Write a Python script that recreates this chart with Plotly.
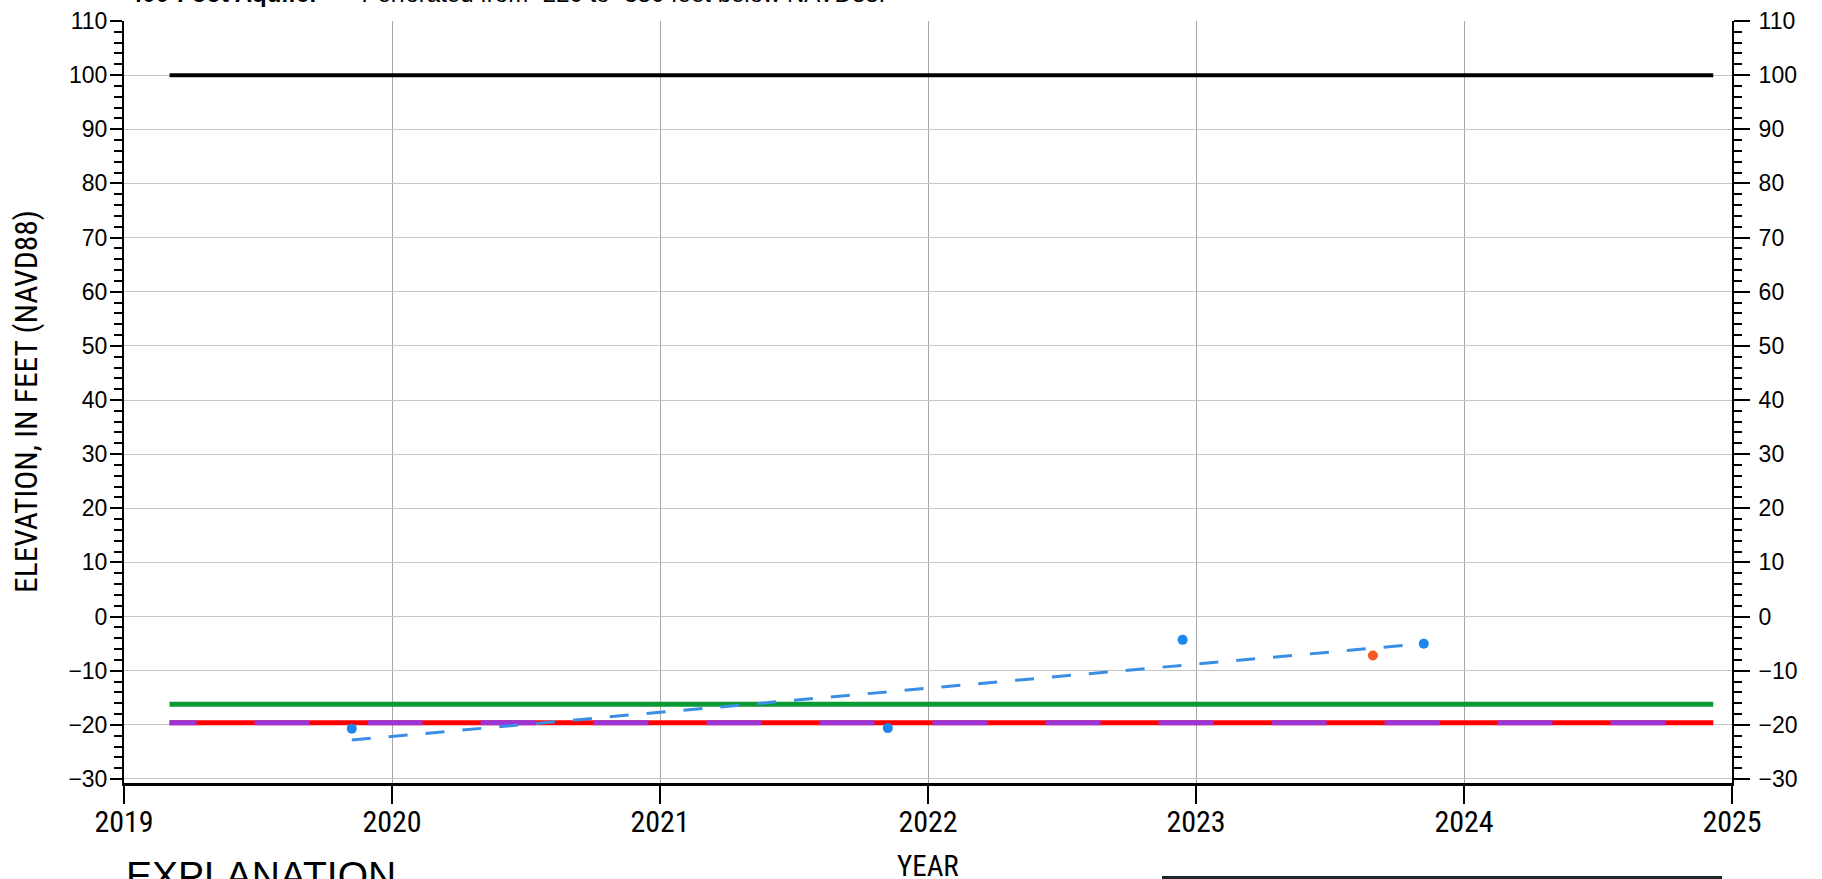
import plotly.graph_objects as go

# ---------------- data ----------------
obs_years = [2019.85, 2021.85, 2022.95, 2023.85]
obs_elev = [-20.7, -20.6, -4.3, -5.0]

other_years = [2023.66]
other_elev = [-7.2]

trend_years = [2019.85, 2023.85]
trend_elev = [-22.8, -5.0]

ref_span = [2019.17, 2024.93]
ground_elev = 100.0
green_elev = -16.2
red_elev = -19.6
purple_elev = -19.6

x_ticks = [2019, 2020, 2021, 2022, 2023, 2024, 2025]
y_range = [-30.74, 110]

title_bold = "400-Foot Aquifer"
title_rest = "  --  Perforated from -220 to -380 feet below NAVD88."

# ---------------- styling ----------------
NARROW = "Liberation Sans Narrow, Arial Narrow, Noto Sans Condensed, Noto Sans ExtraCondensed, Roboto Condensed, Liberation Sans, Arial, sans-serif"
REG = "Arial"

L, R, T, B = 124, 90, 21, 96
W, H = 1822, 879
PW, PH = W - L - R, H - T - B


def px_x(p):
    return (p - L) / PW


def px_y(p):
    return (H - B - p) / PH


# purple/red alternating dash pattern
first, dash_on, dash_off, reps = 27, 55, 58, 16
pattern = [first, dash_off] + [dash_on, dash_off] * reps
purple_dash = ",".join(f"{v}px" for v in pattern)

fig = go.Figure()

fig.add_trace(go.Scatter(x=ref_span, y=[ground_elev] * 2, mode="lines",
                         line=dict(color="black", width=4), showlegend=False,
                         hoverinfo="skip"))
fig.add_trace(go.Scatter(x=ref_span, y=[green_elev] * 2, mode="lines",
                         line=dict(color="#0a9a34", width=5), showlegend=False,
                         hoverinfo="skip"))
fig.add_trace(go.Scatter(x=ref_span, y=[red_elev] * 2, mode="lines",
                         line=dict(color="#ff0000", width=5), showlegend=False,
                         hoverinfo="skip"))
fig.add_trace(go.Scatter(x=ref_span, y=[purple_elev] * 2, mode="lines",
                         line=dict(color="#9b35d6", width=5, dash=purple_dash),
                         showlegend=False, hoverinfo="skip"))

fig.add_trace(go.Scatter(x=trend_years, y=trend_elev, mode="lines",
                         line=dict(color="#3a8ee4", width=3, dash="19px,18px"),
                         showlegend=False))
fig.add_trace(go.Scatter(x=obs_years, y=obs_elev, mode="markers",
                         marker=dict(color="#1c86ee", size=10), showlegend=False))
fig.add_trace(go.Scatter(x=other_years, y=other_elev, mode="markers",
                         marker=dict(color="#f45a24", size=10), showlegend=False))

# dummy trace for right axis
fig.add_trace(go.Scatter(x=[2019], y=[0], yaxis="y2", mode="markers",
                         marker=dict(opacity=0), showlegend=False, hoverinfo="skip"))

yaxis_common = dict(
    range=y_range, dtick=10, tick0=0, automargin=False,
    ticks="outside", tickwidth=1.5, tickcolor="black",
    showline=True, linecolor="black", linewidth=2,
    zeroline=False,
    tickfont=dict(family=REG, size=23, color="black"),
    minor=dict(dtick=2, ticks="outside", ticklen=8, tickwidth=1.5,
               tickcolor="black", showgrid=False),
)

fig.update_layout(
    width=W, height=H,
    font=dict(family=REG),
    margin=dict(l=L, r=R, t=T, b=B, autoexpand=False),
    paper_bgcolor="white", plot_bgcolor="white",
    xaxis=dict(
        range=[x_ticks[0], x_ticks[-1]], tickvals=x_ticks,
        ticktext=[str(v) for v in x_ticks], automargin=False,
        ticks="outside", ticklen=18, tickwidth=1.5, tickcolor="black",
        showline=True, linecolor="black", linewidth=3,
        showgrid=True, gridcolor="#a5a5a5", gridwidth=1,
        zeroline=False,
        tickfont=dict(family=NARROW, size=30, color="black"),
        ticklabelstandoff=-8,
    ),
    yaxis=dict(showgrid=True, gridcolor="#c6c6c6", gridwidth=1,
               ticklen=12, ticklabelstandoff=-2, **yaxis_common),
    yaxis2=dict(overlaying="y", side="right", anchor="x", showgrid=False,
                ticklen=16, ticklabelstandoff=4, **yaxis_common),
)

annotations = [
    dict(text="ELEVATION, IN FEET (NAVD88)", textangle=-90,
         xref="paper", yref="paper", x=px_x(26), y=px_y(402),
         xanchor="center", yanchor="middle", showarrow=False,
         font=dict(family=NARROW, size=31.5, color="black")),
    dict(text="YEAR", xref="paper", yref="paper", x=px_x(928), y=px_y(866),
         xanchor="center", yanchor="middle", showarrow=False,
         font=dict(family=NARROW, size=29, color="black")),
    dict(text="EXPLANATION", xref="paper", yref="paper", x=px_x(124), y=px_y(852),
         xanchor="left", yanchor="top", showarrow=False,
         font=dict(family=REG, size=39, color="black")),
    dict(text=f"<b>{title_bold}</b>{title_rest}", xref="paper", yref="paper",
         x=px_x(127), y=px_y(9), xanchor="left", yanchor="bottom", showarrow=False,
         font=dict(family=REG, size=24, color="black")),
]
fig.update_layout(annotations=annotations)

fig.add_shape(type="rect", xref="paper", yref="paper",
              x0=px_x(1162), x1=px_x(1722), y0=px_y(876), y1=px_y(900),
              fillcolor="#1b2631", line=dict(width=0), layer="above")

fig.write_html("out.html", config={"displayModeBar": False},
               post_script="document.body.style.margin='0';")
